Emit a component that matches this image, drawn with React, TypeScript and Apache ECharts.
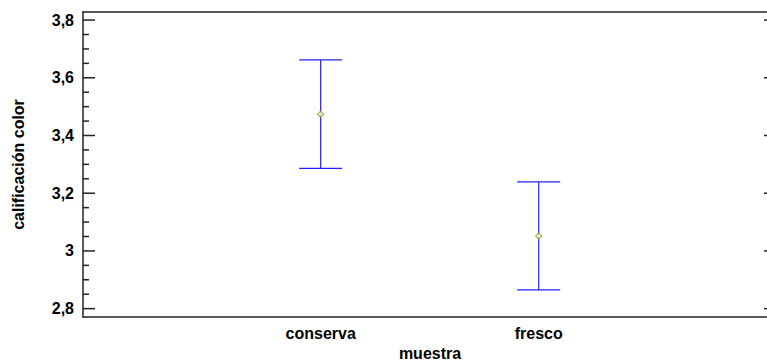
import React, { useEffect, useRef } from "react";
import * as echarts from "echarts";

const categories = ["conserva", "fresco"];
const means = [3.474, 3.052];
const lowerLimits = [3.286, 2.865];
const upperLimits = [3.662, 3.239];
const majorTicks = [2.8, 3.0, 3.2, 3.4, 3.6, 3.8];
const yMin = 2.771;
const yMax = 3.828;
const xMin = -1.09;
const xMax = 2.047;

const minorTicks: number[] = [];
for (let i = 0; i < majorTicks.length - 1; i++) {
  const a = majorTicks[i];
  const b = majorTicks[i + 1];
  for (let k = 1; k < 4; k++) minorTicks.push(+(a + ((b - a) * k) / 4).toFixed(3));
}

const font = { fontFamily: "Arial, 'Liberation Sans', sans-serif", fontWeight: "bold" as const, fontSize: 16, color: "#000" };

export default function App() {
  const ref = useRef<HTMLDivElement>(null);
  useEffect(() => {
    if (!ref.current) return;
    const chart = echarts.init(ref.current, undefined, { renderer: "svg" });
    const fmt = (v: number) => String(+(+v).toFixed(1)).replace(".", ",");
    const lineStyle = { color: "#222", width: 1.5 };
    const tickSeries = (values: number[], len: number, side: "left" | "right") => ({
      type: "custom",
      silent: true,
      clip: false,
      data: values.map((v) => [side === "left" ? xMin : xMax, v]),
      renderItem: (params: any, api: any) => {
        const p = api.coord([api.value(0), api.value(1)]);
        const dx = side === "left" ? len : -len;
        return { type: "line", shape: { x1: p[0], y1: p[1], x2: p[0] + dx, y2: p[1] }, style: { stroke: "#222", lineWidth: 1.5 } };
      },
      z: 1,
    });
    chart.setOption({
      animation: false,
      backgroundColor: "#fff",
      grid: { left: 83, top: 12, right: 0, bottom: 45, outerBoundsMode: "none", show: false },
      xAxis: [
        {
          type: "value",
          min: xMin,
          max: xMax,
          position: "bottom",
          name: "muestra",
          nameLocation: "middle",
          nameGap: 28,
          nameTextStyle: { ...font, padding: [0, 0, 0, 10] },
          axisLine: { show: true, onZero: false, lineStyle },
          axisTick: { show: false },
          splitLine: { show: false },
          axisLabel: {
            ...font,
            margin: 8,
            customValues: categories.map((_, i) => i),
            formatter: (v: number) => categories[Math.round(v)] ?? "",
          },
        },
        {
          type: "value",
          min: xMin,
          max: xMax,
          position: "top",
          axisLine: { show: true, onZero: false, lineStyle },
          axisTick: { show: false },
          splitLine: { show: false },
          axisLabel: { show: false },
        },
      ],
      yAxis: {
        type: "value",
        min: yMin,
        max: yMax,
        position: "left",
        name: "calificación color",
        nameLocation: "middle",
        nameGap: 57,
        nameTextStyle: font,
        axisLine: { show: true, onZero: false, lineStyle },
        splitLine: { show: false },
        axisTick: { show: false },
        axisLabel: { ...font, margin: 9, customValues: majorTicks, formatter: fmt },
      },
      series: [
        tickSeries(majorTicks, 12, "left"),
        tickSeries(minorTicks, 6, "left"),
        tickSeries(majorTicks, 3, "right"),
        {
          type: "custom",
          data: categories.map((_, i) => [i, lowerLimits[i], upperLimits[i]]),
          renderItem: (params: any, api: any) => {
            const x = api.value(0);
            const lo = api.coord([x, api.value(1)]);
            const hi = api.coord([x, api.value(2)]);
            const hw = 21.5;
            const style = { stroke: "#2020ff", lineWidth: 1.2 };
            return {
              type: "group",
              children: [
                { type: "line", shape: { x1: lo[0], y1: lo[1], x2: hi[0], y2: hi[1] }, style },
                { type: "line", shape: { x1: lo[0] - hw, y1: lo[1], x2: lo[0] + hw, y2: lo[1] }, style },
                { type: "line", shape: { x1: hi[0] - hw, y1: hi[1], x2: hi[0] + hw, y2: hi[1] }, style },
              ],
            };
          },
          z: 2,
        },
        {
          type: "scatter",
          data: categories.map((_, i) => [i, means[i]]),
          symbol: "diamond",
          symbolSize: 6,
          itemStyle: { color: "#ffffff", borderColor: "#9a9a00", borderWidth: 1.2 },
          z: 3,
        },
      ],
    });
    return () => chart.dispose();
  }, []);
  return <div ref={ref} style={{ position: "fixed", left: 0, top: 0, width: 767, height: 362, background: "#fff" }} />;
}
